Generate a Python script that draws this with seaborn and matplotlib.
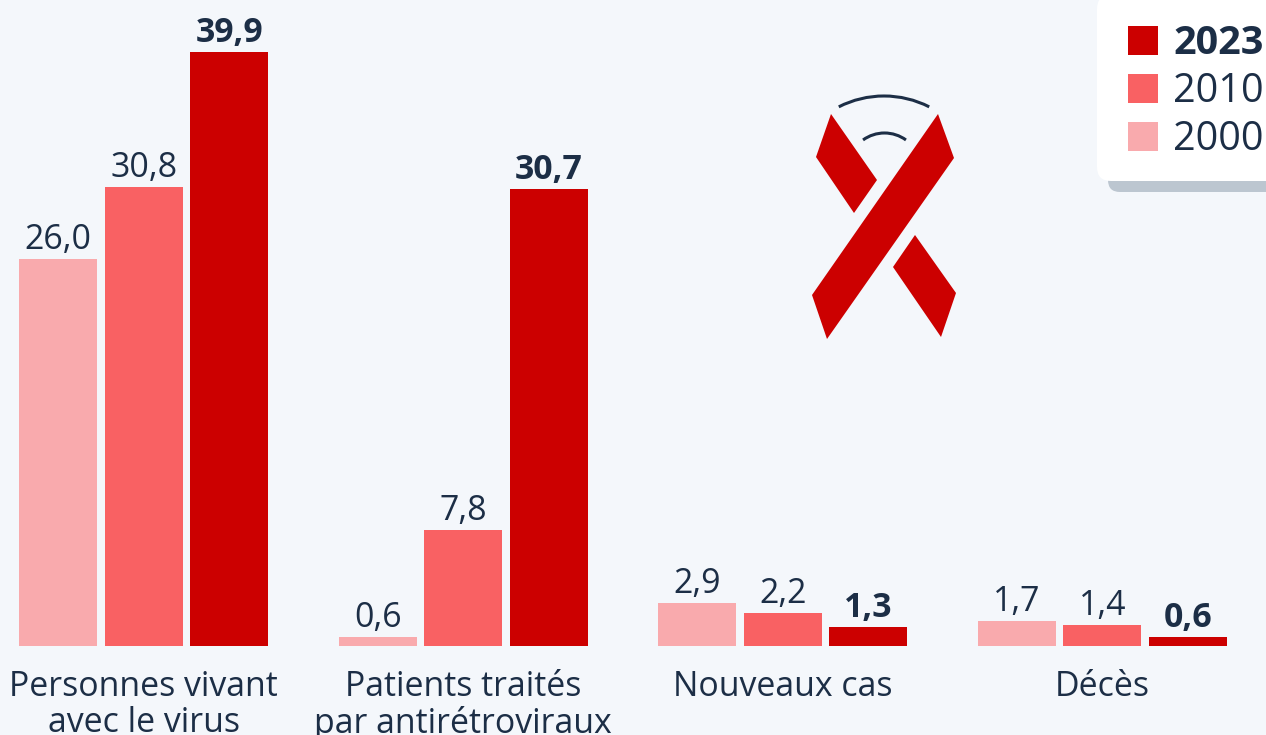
import numpy as np
import pandas as pd
import matplotlib
matplotlib.use('Agg')
import matplotlib.pyplot as plt
from matplotlib.patches import FancyBboxPatch, Polygon, Rectangle, Arc
import seaborn as sns

categories = ['Personnes vivant\navec le virus', 'Patients traités\npar antirétroviraux', 'Nouveaux cas', 'Décès']
years = ['2000', '2010', '2023']
v2000 = [26.0, 0.6, 2.9, 1.7]
v2010 = [30.8, 7.8, 2.2, 1.4]
v2023 = [39.9, 30.7, 1.3, 0.6]
colors = ['#f9aaad', '#f96163', '#cc0000']
navy = '#1c2e46'
bg = '#f4f7fb'

df = pd.DataFrame({'cat': categories * 3,
                   'year': np.repeat(years, 4),
                   'val': v2000 + v2010 + v2023})

sns.set_theme(style='white')
plt.rcParams['font.family'] = ['Open Sans', 'DejaVu Sans']

fig = plt.figure(figsize=(12.66, 7.35), dpi=100, facecolor=bg)
# axes spans the category bands, baseline at y=646, 39.9 at y=52
ax = fig.add_axes([-16 / 1266, 1 - 646 / 735, 1278 / 1266, 594 * 46 / 39.9 / 735])
ax.set_facecolor('none')
sns.barplot(data=df, x='cat', y='val', hue='year', palette=colors, hue_order=years,
            order=categories, width=0.803, gap=0.088, legend=False, ax=ax, saturation=1,
            linewidth=0)
ax.set_ylim(0, 46)
ax.set_xlim(-0.5, 3.5)
sns.despine(ax=ax, left=True, bottom=True)
ax.set_xlabel('')
ax.set_ylabel('')
ax.set_yticks([])
ax.tick_params(axis='x', length=0, pad=17)
ax.set_xticks(range(4))
ax.set_xticklabels(categories, fontsize=24.4, color=navy, linespacing=1.1)

for i, cont in enumerate(ax.containers):
    for bar, v in zip(cont, [v2000, v2010, v2023][i]):
        ax.annotate(f'{v:.1f}'.replace('.', ','),
                    (bar.get_x() + bar.get_width() / 2, v), xytext=(0, 1.5),
                    textcoords='offset points', ha='center', va='bottom', fontsize=24.4,
                    color=navy, fontweight='bold' if i == 2 else 'normal', clip_on=False)

# overlay in pixel coordinates for legend and ribbon
ov = fig.add_axes([0, 0, 1, 1], facecolor='none')
ov.set_xlim(0, 1266)
ov.set_ylim(735, 0)
ov.axis('off')

ov.add_patch(FancyBboxPatch((1108, 12), 200, 180, boxstyle='round,pad=0,rounding_size=12',
                            fc='#bcc6d0', ec='none'))
ov.add_patch(FancyBboxPatch((1097, -5), 200, 186, boxstyle='round,pad=0,rounding_size=14',
                            fc='white', ec='none'))
for y, c, lab, w in zip([40.5, 88.5, 136.5], colors[::-1], years[::-1], ['bold', 'normal', 'normal']):
    ov.add_patch(Rectangle((1128, y - 14.5), 30, 29, fc=c, ec='none'))
    ov.text(1173, y + 3, lab, fontsize=28.5, color=navy, va='center', fontweight=w)

red = '#cc0000'
ov.add_patch(Polygon([(938, 114), (954, 158), (827, 339), (812, 295)], fc=red, ec='none'))
ov.add_patch(Polygon([(831, 114), (877, 180), (854, 213), (816, 157)], fc=red, ec='none'))
ov.add_patch(Polygon([(915, 235), (956, 293), (941, 337), (893, 267)], fc=red, ec='none'))
ov.add_patch(Arc((884, 195.6), 199.2, 199.2, theta1=243, theta2=297, color=navy, lw=2.2))
ov.add_patch(Arc((884.5, 169.5), 73, 73, theta1=234, theta2=306, color=navy, lw=2.2))

fig.savefig('out.png', dpi=100, facecolor=bg)
